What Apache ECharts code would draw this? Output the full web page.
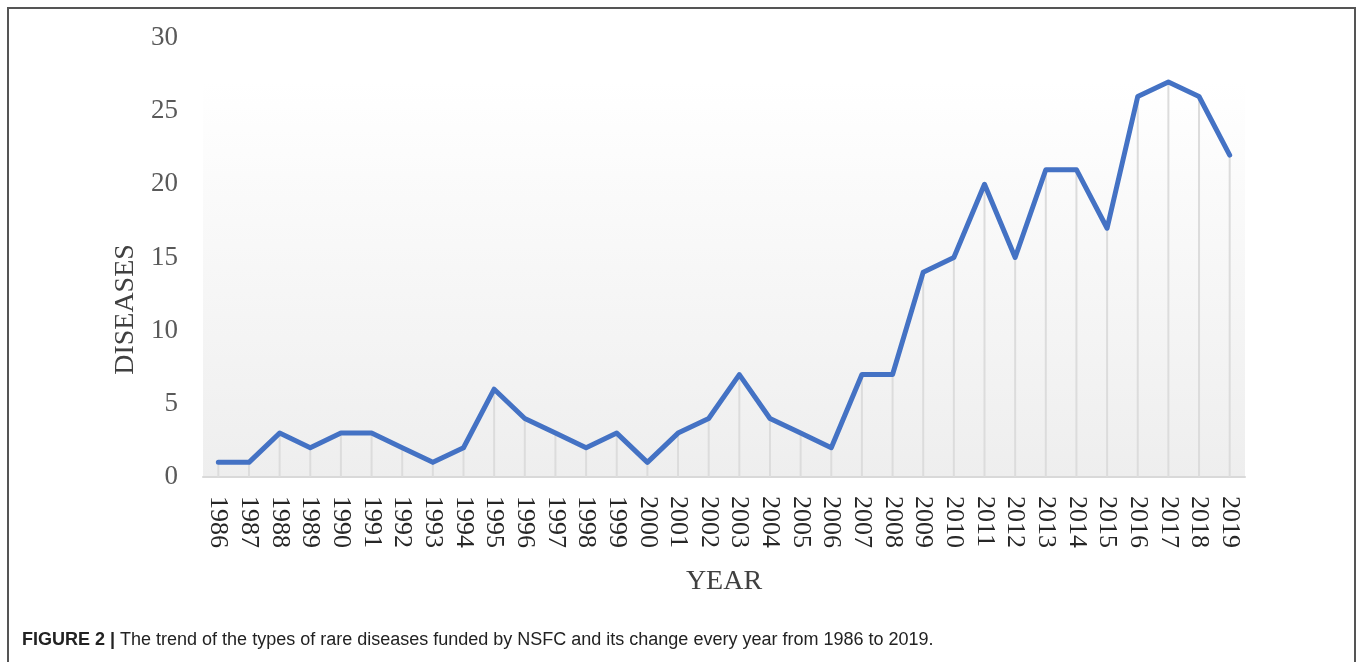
<!DOCTYPE html>
<html>
<head>
<meta charset="utf-8">
<script src="https://cdn.jsdelivr.net/npm/echarts@6/dist/echarts.min.js"></script>
<style>
  html, body { margin: 0; padding: 0; background: #fff; }
  #chart { width: 1358px; height: 662px; }
</style>
</head>
<body>
<div id="chart"></div>
<script>
const years = [
  '1986', '1987', '1988', '1989', '1990', '1991', '1992', '1993', '1994', '1995',
  '1996', '1997', '1998', '1999', '2000', '2001', '2002', '2003', '2004', '2005',
  '2006', '2007', '2008', '2009', '2010', '2011', '2012', '2013', '2014', '2015',
  '2016', '2017', '2018', '2019'
]
const diseases = [
  1, 1, 3, 2, 3, 3, 2, 1, 2, 6,
  4, 3, 2, 3, 1, 3, 4, 7, 4, 3,
  2, 7, 7, 14, 15, 20, 15, 21, 21, 17,
  26, 27, 26, 22
]
const yTicks = [0, 5, 10, 15, 20, 25, 30]

const serif = '"Liberation Serif", "DejaVu Serif", serif'
const sans = '"Liberation Sans", Arial, sans-serif'
const chart = echarts.init(document.getElementById('chart'))

chart.setOption({
  animation: false,
  grid: {
    left: 203, right: 113, top: 38, bottom: 185,
    show: true,
    borderWidth: 0,
    backgroundColor: new echarts.graphic.LinearGradient(0, 0, 0, 1, [
      { offset: 0, color: '#ffffff' },
      { offset: 0.1, color: '#ffffff' },
      { offset: 1, color: '#eeeeee' },
    ]),
  },
  xAxis: {
    type: 'category',
    data: years,
    name: 'YEAR',
    nameLocation: 'middle',
    nameGap: 91,
    nameTextStyle: { fontFamily: serif, fontSize: 28, color: '#404040' },
    axisLine: { lineStyle: { color: '#d9d9d9', width: 2 } },
    axisTick: { show: false },
    axisLabel: {
      rotate: -90,
      margin: 19,
      fontFamily: serif,
      fontSize: 26,
      color: '#262626',
      interval: 0,
    },
  },
  yAxis: {
    type: 'value',
    min: yTicks[0],
    max: yTicks[yTicks.length - 1],
    interval: yTicks[1] - yTicks[0],
    name: 'DISEASES',
    nameLocation: 'middle',
    nameGap: 62,
    nameRotate: 90,
    nameTextStyle: { fontFamily: serif, fontSize: 28, color: '#404040', padding: [0, 104, 0, 0] },
    axisLine: { show: false },
    axisTick: { show: false },
    splitLine: { show: false },
    axisLabel: { margin: 25, fontFamily: serif, fontSize: 27, color: '#595959' },
  },
  series: [
    {
      // drop lines from each point to the axis
      type: 'bar',
      data: diseases,
      barWidth: 2,
      itemStyle: { color: '#dcdcdc' },
      silent: true,
      z: 1,
    },
    {
      type: 'line',
      data: diseases,
      symbol: 'none',
      lineStyle: { color: '#4472c4', width: 5, join: 'round', cap: 'round' },
      z: 3,
    },
  ],
  graphic: [
    {
      type: 'rect',
      shape: { x: 8, y: 8, width: 1347, height: 700 },
      style: { fill: 'none', stroke: '#555555', lineWidth: 2 },
      silent: true,
    },
    {
      type: 'text',
      left: 22,
      top: 631,
      style: {
        text: '{b|FIGURE 2 |}{n| The trend of the types of rare diseases funded by NSFC and its change every year from 1986 to 2019.}',
        font: '18px ' + sans,
        fill: '#222222',
        rich: {
          b: { fontWeight: 'bold', fontFamily: sans, fontSize: 18, fill: '#222222' },
          n: { fontWeight: 'normal', fontFamily: sans, fontSize: 18, fill: '#222222' },
        },
      },
    },
  ],
})
</script>
</body>
</html>
